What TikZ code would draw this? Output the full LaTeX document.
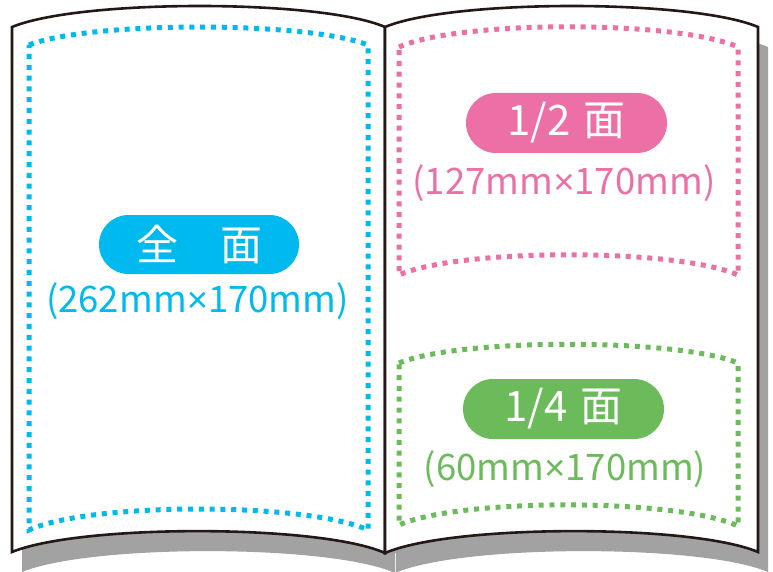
\documentclass[tikz,border=0pt]{standalone}
\usepackage{fontspec}
\newfontfamily\jp{Noto Sans CJK JP}
\newfontfamily\lat{Liberation Sans}
\newcommand{\tms}{{\lat ×}}
\definecolor{cblue}{HTML}{00B9EF}
\definecolor{cpink}{HTML}{EC6FA6}
\definecolor{cgreen}{HTML}{6CBB5A}
\definecolor{shadowgray}{HTML}{A2A2A2}
\definecolor{ink}{HTML}{231815}
\begin{document}
\begin{tikzpicture}[x=1pt,y=-1pt,
  pageline/.style={draw=ink,line width=2.6pt,fill=white,line join=miter},
  dotline/.style={line width=5pt,dash pattern=on 5pt off 5.8pt},
  pill/.style={inner sep=0pt,minimum width=200pt,minimum height=59pt,rounded corners=29.5pt,text=white,font=\jp\fontsize{42}{44}\selectfont},
  sizetext/.style={inner sep=0pt,font=\jp\fontsize{36.5}{38}\selectfont}]
\useasboundingbox (0,0) rectangle (773,572);
% shadow
\fill[shadowgray] (22,47) .. controls (90,19) and (330,19) .. (395,47) -- (395,573) .. controls (330,544) and (90,544) .. (22,572) -- cycle;
\fill[shadowgray] (395,47) .. controls (462,19) and (702,19) .. (768,47) -- (768,572) .. controls (702,544) and (462,544) .. (395,573) -- cycle;
\draw[white!80!shadowgray,line width=0.8pt] (395,553) -- (395,573);
% pages
\draw[pageline] (12,27) .. controls (80,-1) and (320,-1) .. (385,27) -- (385,553) .. controls (320,524) and (80,524) .. (12,552) -- cycle;
\draw[pageline] (385,27) .. controls (452,-1) and (692,-1) .. (758,27) -- (758,552) .. controls (692,524) and (452,524) .. (385,553) -- cycle;
% dotted areas
\draw[dotline,cblue] (29,45) .. controls (90,21) and (307,21) .. (368,45) -- (368,530) .. controls (307,502) and (90,502) .. (29,530) -- cycle;
\draw[dotline,cpink] (399,47) .. controls (460,20) and (677,20) .. (738,47) -- (738,275) .. controls (677,248) and (460,248) .. (399,275) -- cycle;
\draw[dotline,cgreen] (399,363) .. controls (460,338) and (677,338) .. (738,363) -- (738,526) .. controls (677,498) and (460,498) .. (399,525) -- cycle;
% labels
\node[pill,fill=cblue] (full) at (199,244.5) {全　面};
\node[sizetext,text=cblue] (fullsize) at (197.5,301.5) {(262mm\tms170mm)};
\node[pill,fill=cpink,minimum width=201pt,minimum height=60pt,rounded corners=30pt] (half) at (566.5,123) {1/2\hspace{0.3em}面};
\node[sizetext,text=cpink] (halfsize) at (564,183) {(127mm\tms170mm)};
\node[pill,fill=cgreen,minimum width=201pt,minimum height=60pt,rounded corners=30pt] (quarter) at (563.5,409) {1/4\hspace{0.3em}面};
\node[sizetext,text=cgreen] (quartersize) at (565,469) {(60mm\tms170mm)};
\end{tikzpicture}
\end{document}
